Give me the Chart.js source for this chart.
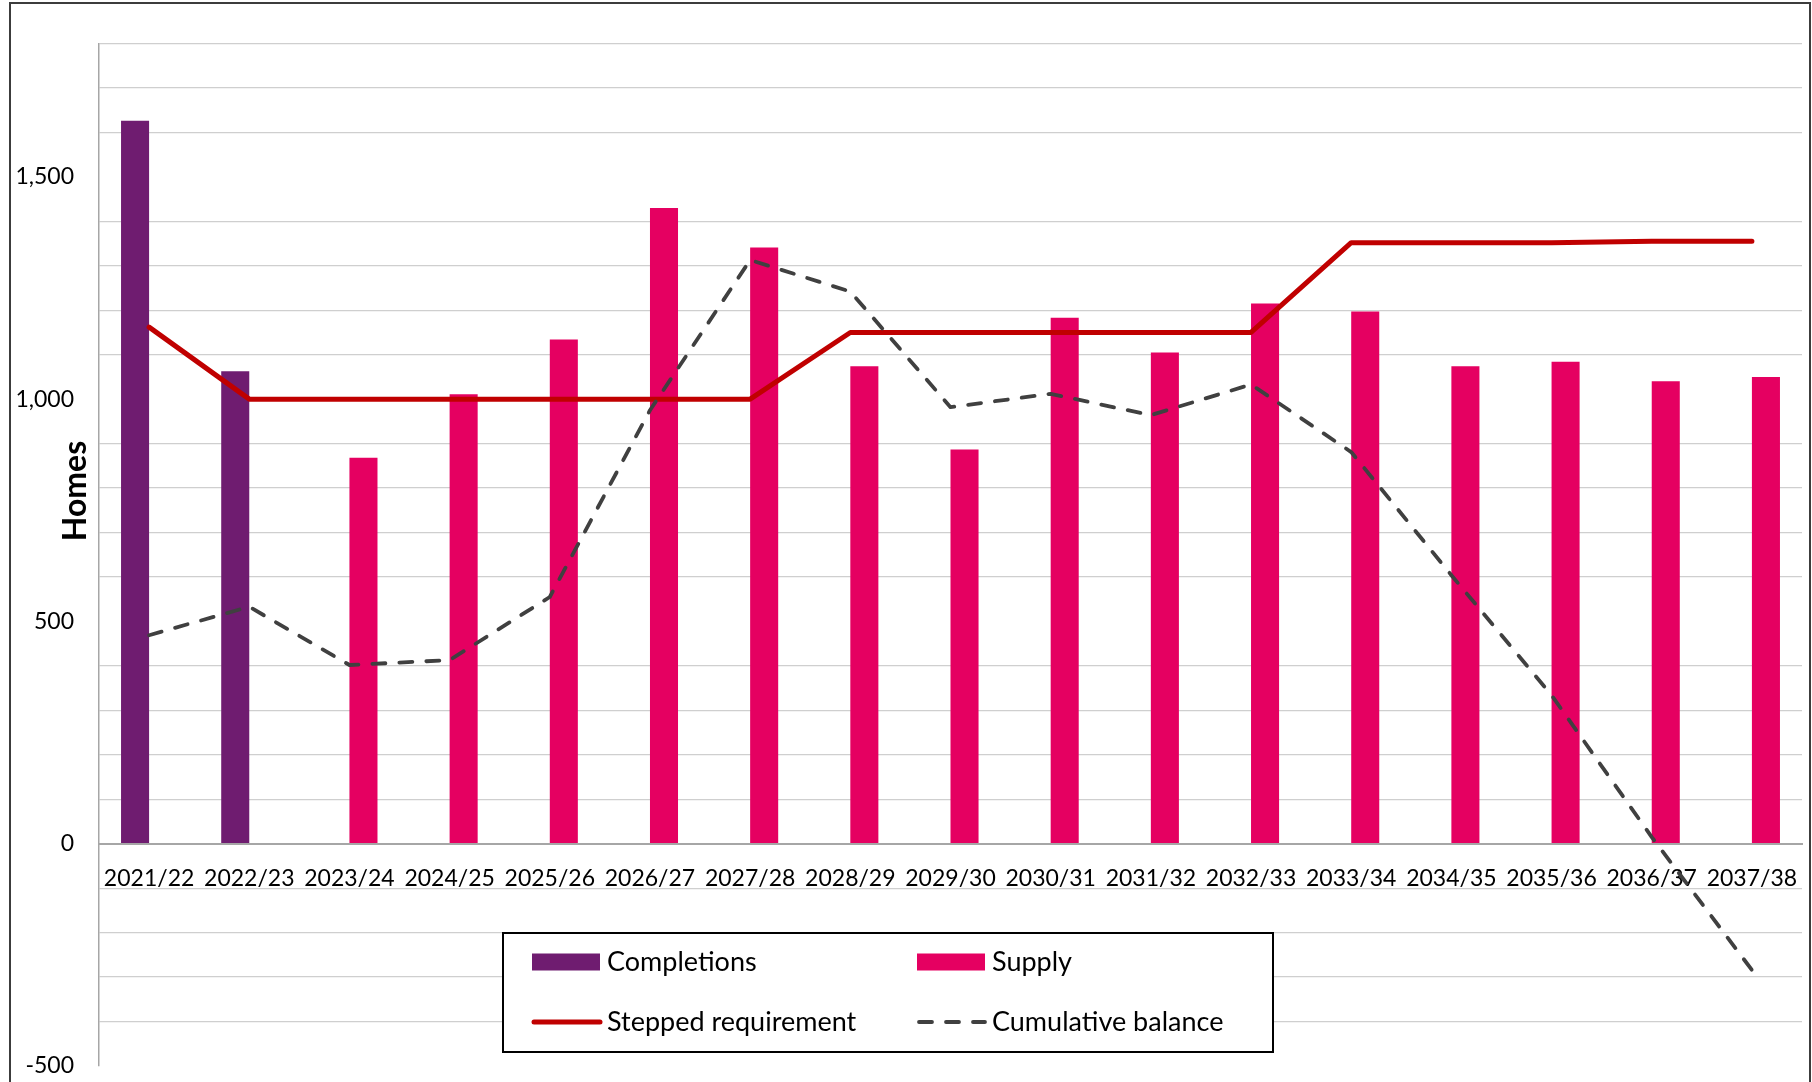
<!DOCTYPE html>
<html>
<head>
<meta charset="utf-8">
<title>Housing trajectory</title>
<script src="https://cdn.jsdelivr.net/npm/chart.js@4.4.1/dist/chart.umd.min.js"></script>
<style>
    html, body { margin: 0; padding: 0; background: #ffffff; }
    canvas { display: block; }
</style>
</head>
<body>
<canvas id="trajectoryChart" width="1812" height="1082"></canvas>
<script>
// the years along the bottom
const years = [
    '2021/22', '2022/23', '2023/24', '2024/25', '2025/26', '2026/27',
    '2027/28', '2028/29', '2029/30', '2030/31', '2031/32', '2032/33',
    '2033/34', '2034/35', '2035/36', '2036/37', '2037/38'
];

// homes built (first two years only)
const completions = [1626, 1063, null, null, null, null, null, null, null,
    null, null, null, null, null, null, null, null];

// projected supply
const supply = [null, null, 868, 1011, 1134, 1430, 1341, 1074, 887,
    1183, 1105, 1215, 1197, 1074, 1084, 1040, 1050];

// stepped housing requirement
const requirement = [1162, 1000, 1000, 1000, 1000, 1000, 1000, 1150, 1150,
    1150, 1150, 1150, 1352, 1352, 1352, 1355, 1355];

// running total of supply against requirement
const balance = [469, 533, 402, 413, 555, 975, 1313, 1242, 982,
    1012, 964, 1033, 881, 604, 334, 15, -284];

const fontFamily = 'Lato, "Open Sans", sans-serif';

// frame round the whole chart plus the rotated axis title
const framePlugin = {
    id: 'frame',
    beforeDraw (chart) {
        const ctx = chart.ctx;
        ctx.save();
        ctx.fillStyle = '#ffffff';
        ctx.fillRect(0, 0, chart.width, chart.height);
        ctx.strokeStyle = '#3c3c3c';
        ctx.lineWidth = 2;
        ctx.strokeRect(10, 3, 1800, 1100);
        ctx.restore();
    },
    afterDraw (chart) {
        const ctx = chart.ctx;
        ctx.save();
        ctx.translate(76, 491);
        ctx.rotate(-Math.PI / 2);
        ctx.fillStyle = '#000000';
        ctx.font = 'bold 32px ' + fontFamily;
        ctx.textAlign = 'center';
        ctx.textBaseline = 'middle';
        ctx.fillText('Homes', 0, 0);
        ctx.restore();
    }
};

// boxed 2x2 legend sitting below the zero line
const boxLegendPlugin = {
    id: 'boxLegend',
    afterDraw (chart, args, opts) {
        const ctx = chart.ctx;
        ctx.save();
        ctx.fillStyle = '#ffffff';
        ctx.fillRect(opts.left, opts.top, opts.width, opts.height);
        ctx.strokeStyle = '#000000';
        ctx.lineWidth = 2;
        ctx.strokeRect(opts.left, opts.top, opts.width, opts.height);

        chart.data.datasets.forEach(function (ds, i) {
            const x = opts.columns[i % 2];
            const cy = opts.rows[Math.floor(i / 2)];
            if (ds.type === 'bar') {
                ctx.fillStyle = ds.backgroundColor;
                ctx.fillRect(x, cy - 8.5, 68, 17);
            } else {
                ctx.beginPath();
                ctx.strokeStyle = ds.borderColor;
                ctx.lineWidth = ds.borderWidth;
                ctx.lineCap = 'round';
                ctx.setLineDash(ds.borderDash || []);
                ctx.moveTo(x + 2, cy);
                ctx.lineTo(x + 68, cy);
                ctx.stroke();
                ctx.setLineDash([]);
            }
            ctx.fillStyle = '#000000';
            ctx.font = '27px ' + fontFamily;
            ctx.textAlign = 'left';
            ctx.textBaseline = 'middle';
            ctx.fillText(ds.label, x + 75, cy);
        });
        ctx.restore();
    }
};

const data = {
    labels: years,
    datasets: [
        {
            type: 'bar',
            label: 'Completions',
            data: completions,
            backgroundColor: '#6f1c70',
            order: 2
        },
        {
            type: 'bar',
            label: 'Supply',
            data: supply,
            backgroundColor: '#e50061',
            order: 2
        },
        {
            type: 'line',
            label: 'Stepped requirement',
            data: requirement,
            borderColor: '#c00000',
            borderWidth: 5,
            borderCapStyle: 'round',
            borderJoinStyle: 'round',
            pointRadius: 0,
            fill: false,
            order: 1
        },
        {
            type: 'line',
            label: 'Cumulative balance',
            data: balance,
            borderColor: '#404040',
            borderWidth: 3.8,
            borderDash: [13, 14],
            borderCapStyle: 'round',
            borderJoinStyle: 'round',
            pointRadius: 0,
            fill: false,
            order: 0
        }
    ]
};

const config = {
    data: data,
    options: {
        responsive: false,
        animation: false,
        devicePixelRatio: 1,
        layout: {
            padding: { left: 10, right: 10, top: 43.5, bottom: 16 }
        },
        datasets: {
            bar: {
                categoryPercentage: 0.56,
                barPercentage: 1.0
            }
        },
        scales: {
            x: {
                // category labels hang off the zero line
                position: { y: 0 },
                offset: true,
                afterFit (scale) {
                    scale.height = 0;
                    scale.paddingLeft = 0;
                    scale.paddingRight = 0;
                },
                grid: { display: false, drawTicks: false },
                border: { display: true, color: '#a6a6a6', width: 2 },
                ticks: {
                    autoSkip: false,
                    maxRotation: 0,
                    minRotation: 0,
                    padding: 21,
                    color: '#000000',
                    font: { family: fontFamily, size: 23 }
                }
            },
            y: {
                position: 'left',
                min: -500,
                max: 1800,
                afterFit (scale) {
                    scale.width = 89;
                    // keep the label gap from eating into the plot height
                    scale.paddingTop = 14;
                    scale.paddingBottom = 14;
                },
                grid: {
                    drawTicks: false,
                    lineWidth: 1.3,
                    // minor lines only, none on the labelled values
                    color: function (ctx) {
                        return ctx.tick && ctx.tick.value % 500 === 0 ? 'rgba(0,0,0,0)' : '#cfcfcf';
                    }
                },
                border: { display: true, color: '#a6a6a6', width: 1.5 },
                ticks: {
                    stepSize: 100,
                    autoSkip: false,
                    padding: 25,
                    color: '#000000',
                    font: { family: fontFamily, size: 23 },
                    callback: function (value) {
                        return value % 500 === 0 ? value.toLocaleString('en-US') : '';
                    }
                }
            }
        },
        plugins: {
            legend: { display: false },
            tooltip: { enabled: false },
            boxLegend: {
                left: 503,
                top: 933,
                width: 770,
                height: 119,
                columns: [532, 917],
                rows: [962, 1022]
            }
        }
    },
    plugins: [framePlugin, boxLegendPlugin]
};

// link the chart to html
const myChart = new Chart(
    document.getElementById('trajectoryChart'),
    config
);
</script>
</body>
</html>
